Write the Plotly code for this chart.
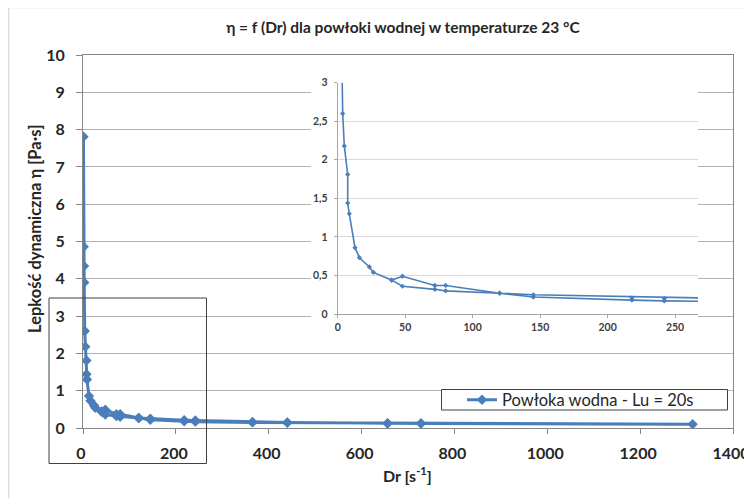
import plotly.graph_objects as go

# ---- data ----
dr_values = [1.0, 1.6, 2.2, 2.6, 3.7, 4.9, 7.4, 7.4, 8.6, 12.8, 16.1, 23.5, 26.4, 40,
             48, 72, 80, 120, 145, 218, 242, 365, 440, 656, 728, 1313,
             728, 656, 440, 365, 242, 218, 145, 120, 80, 72, 48, 40]
eta_values = [7.81, 4.86, 4.34, 3.90, 2.60, 2.18, 1.81, 1.44, 1.30, 0.86, 0.73, 0.61, 0.54, 0.44,
              0.49, 0.37, 0.37, 0.27, 0.25, 0.21, 0.20, 0.16, 0.15, 0.13, 0.12, 0.10,
              0.12, 0.12, 0.14, 0.15, 0.17, 0.18, 0.22, 0.27, 0.30, 0.32, 0.36, 0.44]

main_y_ticks = [0, 1, 2, 3, 4, 5, 6, 7, 8, 9, 10]
main_x_ticks = [0, 200, 400, 600, 800, 1000, 1200, 1400]
inset_y_ticks = [0, 0.5, 1, 1.5, 2, 2.5, 3]
inset_y_labels = ["0", "0,5", "1", "1,5", "2", "2,5", "3"]
inset_x_ticks = [0, 50, 100, 150, 200, 250]

title_text = "η = f (Dr) dla powłoki wodnej w temperaturze 23 °C"
y_title = "Lepkość dynamiczna η [Pa·s]"
x_title = "Dr [s<sup>-1</sup>]"
series_name = "Powłoka wodna - Lu = 20s"

# ---- geometry (target pixel positions, page has an 8px body margin) ----
OFF = 8
W, H = 752, 498
PL, PR, PT, PB = 83, 733, 55, 428          # plot area in target pixels
ML, MR, MT, MB = PL - OFF, W - (PR - OFF), PT - OFF, H - (PB - OFF)
PW, PH = W - ML - MR, H - MT - MB


def px_x(x):
    return (x - PL) / PW


def px_y(y):
    return (PB - y) / PH


LINE = "#4A7EBB"
FONT = "Lato"

fig = go.Figure()

fig.add_trace(go.Scatter(
    x=dr_values, y=eta_values, mode="lines+markers", name=series_name,
    line=dict(color=LINE, width=3),
    marker=dict(symbol="diamond", size=8, color=LINE),
    xaxis="x", yaxis="y", showlegend=True,
))

# empty helper subplot giving the inset its white backing
fig.add_trace(go.Scatter(x=[], y=[], xaxis="x2", yaxis="y2", showlegend=False,
                         hoverinfo="skip"))

fig.add_trace(go.Scatter(
    x=dr_values, y=eta_values, mode="lines+markers", name=series_name,
    line=dict(color=LINE, width=1.6),
    marker=dict(symbol="diamond", size=4, color=LINE),
    xaxis="x3", yaxis="y3", showlegend=False,
))

tick_font_main = dict(family=FONT, size=16, color="#262626", weight="bold")
tick_font_inset = dict(family=FONT, size=10.5, color="#404040", weight="bold")

fig.update_layout(
    width=W, height=H,
    margin=dict(l=ML, r=MR, t=MT, b=MB, autoexpand=False),
    paper_bgcolor="white", plot_bgcolor="white",
    font=dict(family=FONT),
    title=dict(text=title_text, x=(403 - OFF) / W, xanchor="center",
               y=1 - (28 - OFF) / H, yanchor="middle",
               font=dict(family=FONT, size=15.5, color="#262626", weight="bold")),
    xaxis=dict(domain=[0, 1], range=[0, 1400], tickvals=main_x_ticks, automargin=False,
               showgrid=False, zeroline=False, showline=True, linecolor="#868686", linewidth=1,
               mirror=True, ticks="outside", ticklen=5, tickcolor="#868686",
               tickfont=tick_font_main, ticklabelstandoff=6, ticklabelshift=-2),
    yaxis=dict(domain=[0, 1], range=[0, 10], tickvals=main_y_ticks, automargin=False,
               showgrid=True, gridcolor="#B3B3B3", gridwidth=1, zeroline=False,
               showline=True, linecolor="#868686", linewidth=1, mirror=True,
               ticks="outside", ticklen=6, tickcolor="#868686",
               tickfont=tick_font_main, ticklabelstandoff=8),
    xaxis2=dict(domain=[px_x(311), px_x(698)], range=[0, 1], anchor="y2",
                visible=False, showgrid=False, zeroline=False, fixedrange=True),
    yaxis2=dict(domain=[px_y(345), px_y(65)], range=[0, 1], anchor="x2",
                visible=False, showgrid=False, zeroline=False, fixedrange=True),
    xaxis3=dict(domain=[px_x(337.7), px_x(698)], range=[0, 267], anchor="y3",
                tickvals=inset_x_ticks, showgrid=False, zeroline=False, automargin=False,
                showline=True, linecolor="#A6A6A6", linewidth=1,
                ticks="outside", ticklen=3, tickcolor="#A6A6A6",
                tickfont=tick_font_inset),
    yaxis3=dict(domain=[px_y(314), px_y(82.7)], range=[0, 3], anchor="x3",
                tickvals=inset_y_ticks, ticktext=inset_y_labels, automargin=False,
                showgrid=True, gridcolor="#D9D9D9", gridwidth=1, zeroline=False,
                showline=True, linecolor="#A6A6A6", linewidth=1,
                ticks="outside", ticklen=3, tickcolor="#A6A6A6",
                tickfont=tick_font_inset, ticklabelstandoff=4),
    legend=dict(x=px_x(462), xanchor="left", y=px_y(400), yanchor="middle",
                bgcolor="rgba(0,0,0,0)", borderwidth=0,
                font=dict(family=FONT, size=16.5, color="#262626")),
    showlegend=True,
)

# axis titles as annotations
fig.add_annotation(text=y_title, xref="paper", yref="paper", x=px_x(35), y=px_y(229),
                   xanchor="center", yanchor="middle", textangle=-90, showarrow=False,
                   font=dict(family=FONT, size=16.5, color="#262626", weight="bold"))
fig.add_annotation(text=x_title, xref="paper", yref="paper", x=px_x(407), y=px_y(474),
                   xanchor="center", yanchor="middle", showarrow=False,
                   font=dict(family=FONT, size=16, color="#262626", weight="bold"))

# outer chart border
fig.add_shape(type="rect", xref="paper", yref="paper",
              x0=px_x(8.5), x1=px_x(790), y0=px_y(540), y1=px_y(7.5),
              line=dict(color="#D9D9D9", width=1.5), layer="below")

# zoom-region rectangle
fig.add_shape(type="rect", xref="paper", yref="paper",
              x0=px_x(49), x1=px_x(206.5), y0=px_y(463.5), y1=px_y(298),
              line=dict(color="#404040", width=1), layer="above")

# legend box
fig.add_shape(type="rect", xref="paper", yref="paper",
              x0=px_x(441.5), x1=px_x(727.5), y0=px_y(410), y1=px_y(389.5),
              line=dict(color="#404040", width=1), fillcolor="white", layer="above")

fig.write_html("out.html")
